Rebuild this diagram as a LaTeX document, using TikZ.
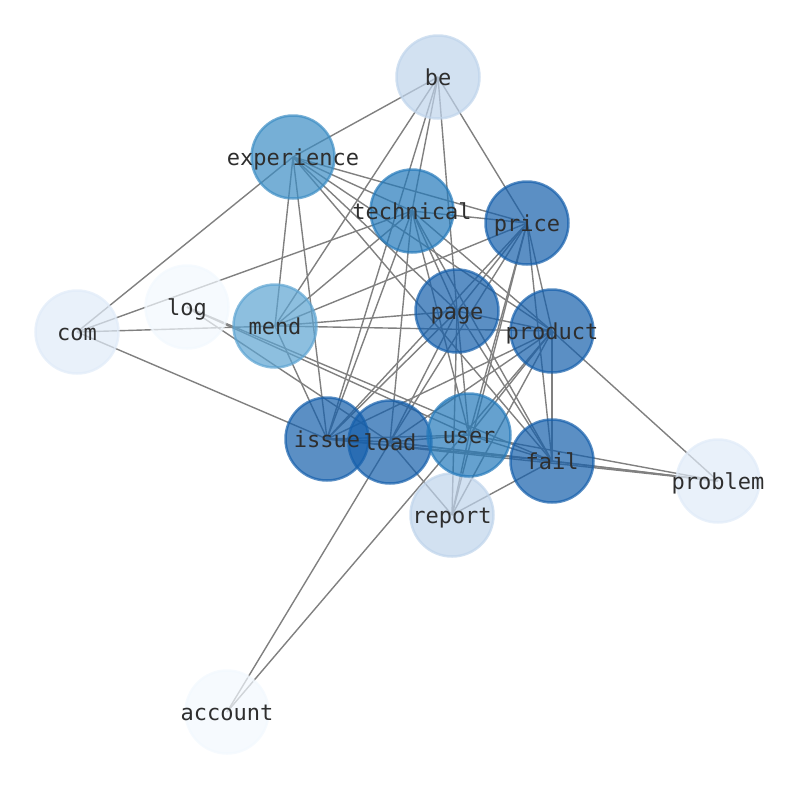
\documentclass[tikz,border=0pt]{standalone}
\usepackage{fontspec}
\setmonofont{DejaVu Sans Mono}
\definecolor{cA}{RGB}{21,95,171}
\definecolor{cB}{RGB}{36,121,186}
\definecolor{cC}{RGB}{60,141,196}
\definecolor{cD}{RGB}{93,164,210}
\definecolor{cE}{RGB}{191,212,235}
\definecolor{cF}{RGB}{224,235,248}
\definecolor{cG}{RGB}{242,248,254}
\tikzset{
  nd/.style={circle, minimum size=83pt, inner sep=0pt, line width=2.5pt,
             draw opacity=0.7, fill opacity=0.7},
  ed/.style={draw=black!50, line width=1.4pt},
  lb/.style={font=\ttfamily\fontsize{22}{22}\selectfont, text=black!82, inner sep=0pt,
             text height=19pt, text depth=2pt}
}
\begin{document}
\begin{tikzpicture}[x=1pt,y=-1pt]
\useasboundingbox (0,0) rectangle (794,790);
% positions
\coordinate (be) at (438,77);
\coordinate (experience) at (293,157);
\coordinate (technical) at (412,211);
\coordinate (price) at (527,223);
\coordinate (page) at (457,311);
\coordinate (product) at (552,331);
\coordinate (log) at (187,307);
\coordinate (com) at (77,332);
\coordinate (mend) at (275,326);
\coordinate (issue) at (327,439);
\coordinate (load) at (390,442);
\coordinate (user) at (469,435);
\coordinate (fail) at (552,461);
\coordinate (problem) at (718,481);
\coordinate (report) at (452,515);
\coordinate (account) at (227,712);
% edges
\foreach \a/\b in {be/experience, be/technical, be/mend, be/issue, be/page, be/price,
  experience/com, experience/technical, experience/price, experience/product,
  experience/page, experience/mend, experience/issue, experience/fail,
  com/technical, com/mend, com/issue,
  technical/mend, technical/issue, technical/user, technical/page, technical/fail,
  technical/product, technical/price, technical/load,
  log/load, log/user, log/fail,
  mend/price, mend/page, mend/product, mend/issue,
  price/page, price/product, price/fail, price/issue, price/load, price/report, price/user,
  page/product, page/issue, page/load, page/user, page/report, page/fail,
  product/problem, product/fail, product/issue, product/load, product/user,
  product/report, product/account,
  issue/user, issue/fail, issue/problem, issue/load,
  load/user, load/fail, load/problem, load/report, load/account,
  user/fail, user/problem, user/report,
  fail/problem, fail/report}
  \draw[ed] (\a) -- (\b);
% nodes
\foreach \n/\c in {com/cF, log/cG, be/cE, experience/cC, mend/cD, technical/cB,
  price/cA, page/cA, product/cA, account/cG, problem/cF, issue/cA, load/cA,
  report/cE, user/cB, fail/cA}
  \node[nd, fill=\c, draw=\c] (c-\n) at (\n) {};
% labels
\foreach \n in {com, log, be, experience, mend, technical, price, page, product,
  account, problem, issue, load, report, user, fail}
  \node[lb] (l-\n) at (c-\n.center) {\n};
\end{tikzpicture}
\end{document}
